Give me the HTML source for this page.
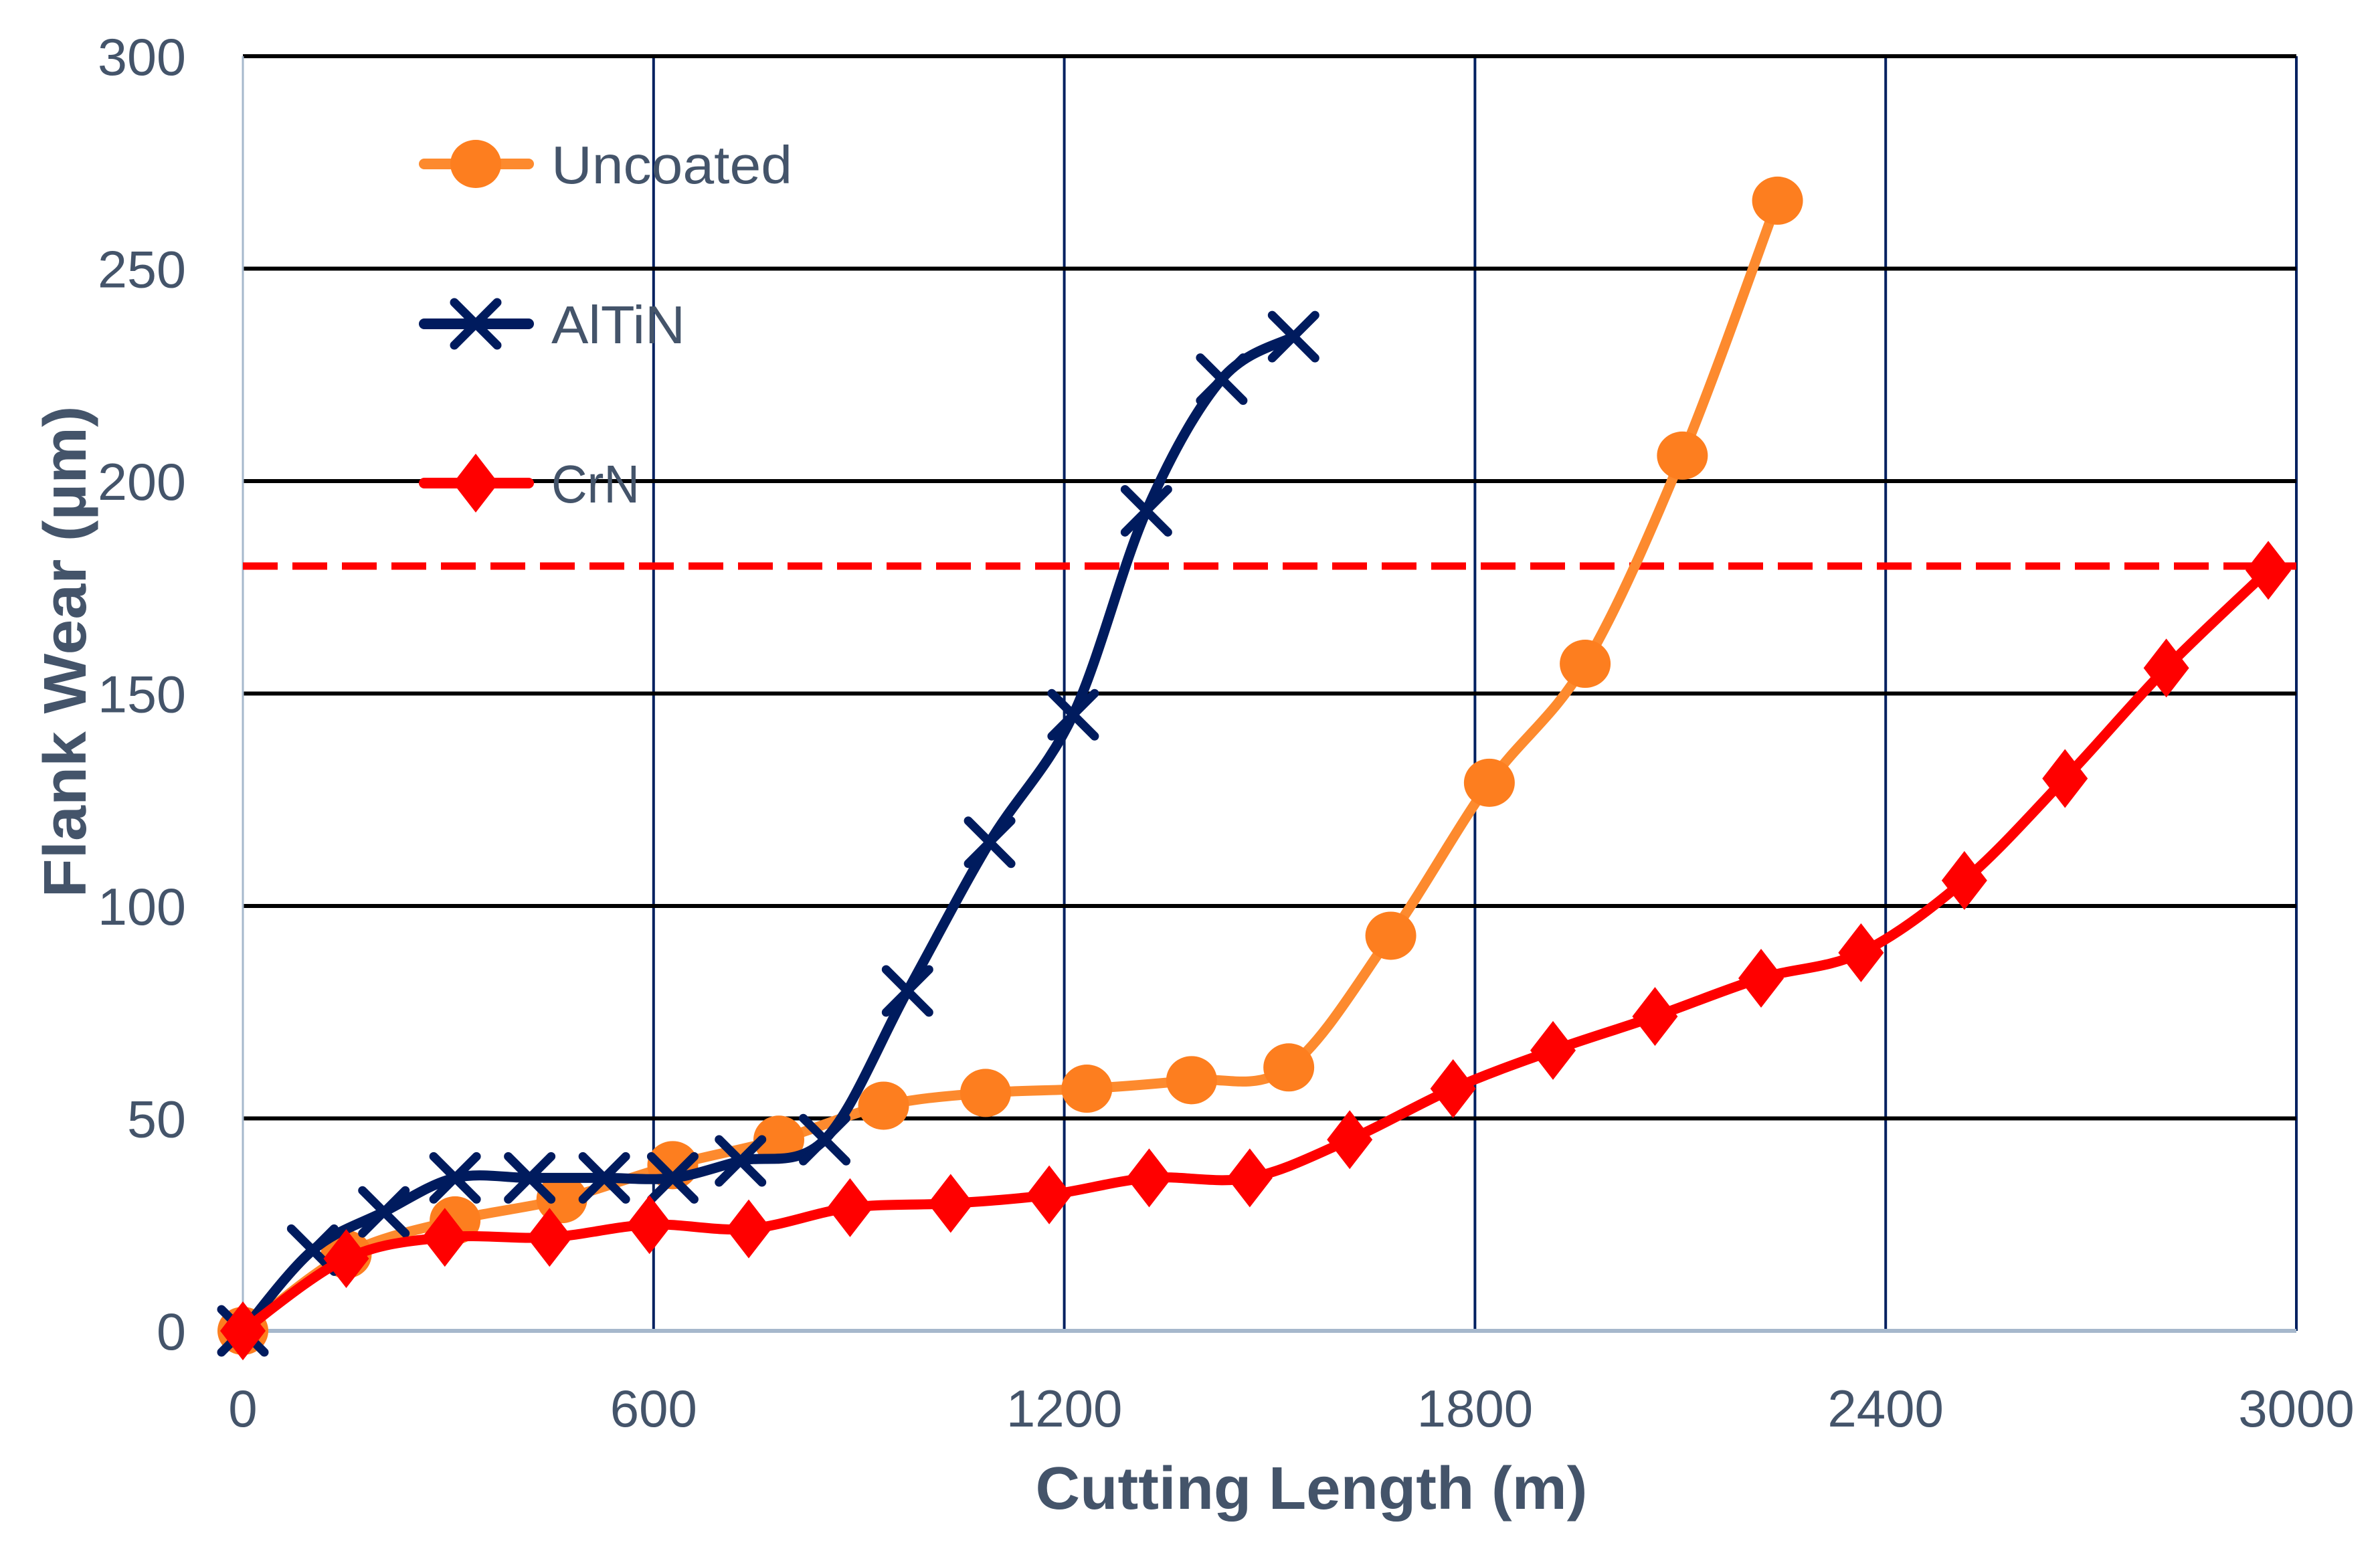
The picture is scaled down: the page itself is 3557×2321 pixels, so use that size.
<!DOCTYPE html>
<html><head><meta charset="utf-8">
<style>
html,body{margin:0;padding:0;background:#fff;}
svg{display:block;}
text{font-family:"Liberation Sans",sans-serif;fill:#44546a;}
</style></head>
<body>
<svg id="chart" width="3557" height="2321" viewBox="0 0 3557 2321" xmlns="http://www.w3.org/2000/svg">
<rect width="3557" height="2321" fill="#fff"/>
<g id="grid"></g>
<g id="series"></g>
<g id="labels"></g>
<g id="legend"></g>
</svg>
<script>
const xTicks = [0, 600, 1200, 1800, 2400, 3000];
const yTicks = [0, 50, 100, 150, 200, 250, 300];
const uncoatedX = [0, 151, 310, 466, 628, 783, 936, 1085, 1233, 1386, 1528, 1677, 1821, 1961, 2103, 2242];
const uncoatedY = [0, 18, 26, 31, 39, 45, 53, 56, 57, 59, 62, 93, 129, 157, 206, 266];
const altinX = [0, 102, 206, 310, 419, 528, 628, 727, 850, 971, 1091, 1213, 1320, 1430, 1535];
const altinY = [0, 19, 28, 36, 36, 36, 36, 40, 45, 80, 115, 145, 193, 224, 234];
const crnX = [0, 151, 295, 448, 594, 739, 887, 1034, 1178, 1324, 1471, 1617, 1768, 1914, 2063, 2218, 2364, 2515, 2662, 2810, 2959];
const crnY = [0, 17, 22, 22, 25, 24, 29, 30, 32, 36, 36, 45, 57, 66, 74, 83, 89, 106, 130, 156, 179];
const limitValue = [180];

const NS = "http://www.w3.org/2000/svg";
const L = 363, R = 3432, T = 84, B = 1989;
const xs = v => L + (v - 0) / 3000 * (R - L);
const ys = v => B - (v - 0) / 300 * (B - T);
function mk(tag, attrs, parent){const e=document.createElementNS(NS,tag);for(const k in attrs)e.setAttribute(k,attrs[k]);parent.appendChild(e);return e;}
const grid=document.getElementById('grid'), ser=document.getElementById('series'), lab=document.getElementById('labels'), leg=document.getElementById('legend');

xTicks.forEach((t,i)=>{ if(i===0) return;
  const l=mk('line',{x1:xs(t),x2:xs(t),y1:T,y2:B,stroke:'#002060','stroke-width':4},grid);
  
  
});
yTicks.forEach((t,i)=>{ if(i===0) return;
  const l=mk('line',{x1:L,x2:R,y1:ys(t),y2:ys(t),stroke:'#000','stroke-width':6},grid);
  
  
});
const ya=mk('line',{x1:L,x2:L,y1:T,y2:B,stroke:'#a6b8cc','stroke-width':3},grid);


const xa=mk('line',{x1:L,x2:R,y1:B,y2:B,stroke:'#a6b8cc','stroke-width':6},grid);



yTicks.forEach(t=>{
  const e=mk('text',{x:278,y:ys(t)+28,'text-anchor':'end','font-size':78,'textLength':String(t).length*44,'lengthAdjust':'spacingAndGlyphs'},lab);
  e.textContent=t;
  
  
});
xTicks.forEach(t=>{
  const e=mk('text',{x:xs(t),y:2132,'text-anchor':'middle','font-size':78},lab);
  e.textContent=t;
  
  
});
const xt=mk('text',{x:1960,y:2255,'text-anchor':'middle','font-size':90,'font-weight':'bold','textLength':825,'lengthAdjust':'spacingAndGlyphs'},lab);
xt.textContent='Cutting Length (m)';


const yt=mk('text',{x:0,y:0,'text-anchor':'middle','font-size':90,'font-weight':'bold','textLength':735,'lengthAdjust':'spacingAndGlyphs',transform:'translate(128,974) rotate(-90)'},lab);
yt.textContent='Flank Wear (µm)';



const lim=mk('line',{x1:L,x2:R,y1:ys(limitValue[0]),y2:ys(limitValue[0]),stroke:'#ff0000','stroke-width':11,'stroke-dasharray':'52 22'},ser);



function smoothPath(px,py){
  let d='M'+px[0]+','+py[0];
  for(let i=0;i<px.length-1;i++){
    const x0=px[Math.max(i-1,0)],y0=py[Math.max(i-1,0)],x1=px[i],y1=py[i],x2=px[i+1],y2=py[i+1],x3=px[Math.min(i+2,px.length-1)],y3=py[Math.min(i+2,px.length-1)];
    d+=' C'+(x1+(x2-x0)/6)+','+(y1+(y2-y0)/6)+' '+(x2-(x3-x1)/6)+','+(y2-(y3-y1)/6)+' '+x2+','+y2;
  }
  return d;
}
function marker(type,cx,cy,color,parent,name){
  let e;
  if(type==='circle'){ e=mk('ellipse',{cx:cx,cy:cy,rx:38,ry:36,fill:'#fd7e1f'},parent); }
  else if(type==='x'){ e=mk('path',{d:`M${cx-32},${cy-32}L${cx+32},${cy+32}M${cx-32},${cy+32}L${cx+32},${cy-32}`,stroke:color,'stroke-width':13,'stroke-linecap':'round'},parent); }
  else { e=mk('path',{d:`M${cx},${cy-44}L${cx+34},${cy}L${cx},${cy+44}L${cx-34},${cy}Z`,fill:color},parent); }
  
  
}
function drawSeries(xv,yv,color,type,name){
  const px=xv.map(xs), py=yv.map(ys);
  const g=mk('g',{},ser);
  
  
  const p=mk('path',{d:smoothPath(px,py),fill:'none',stroke:color,'stroke-width':15,'stroke-linejoin':'round'},g);
  
  
  px.forEach((x,i)=>marker(type,x,py[i],color,g,name+'-point-'+i));
}
drawSeries(uncoatedX,uncoatedY,'#fd8a2e','circle','uncoated');
drawSeries(altinX,altinY,'#001b5e','x','altin');
drawSeries(crnX,crnY,'#ff0000','diamond','crn');

const legItems=[['Uncoated','#fd8a2e','circle',245,360],['AlTiN','#001b5e','x',484,200],['CrN','#ff0000','diamond',722,132]];
legItems.forEach(it=>{
  const g=mk('g',{},leg);
  
  
  const l=mk('line',{x1:634,x2:790,y1:it[3],y2:it[3],stroke:it[1],'stroke-width':16,'stroke-linecap':'round'},g);
  
  
  marker(it[2],711,it[3],it[1],g,'legend-marker');
  const t=mk('text',{x:824,y:it[3]+29,'font-size':80,'textLength':it[4],'lengthAdjust':'spacingAndGlyphs'},g);
  t.textContent=it[0];
  
  
});
</script>
</body></html>
